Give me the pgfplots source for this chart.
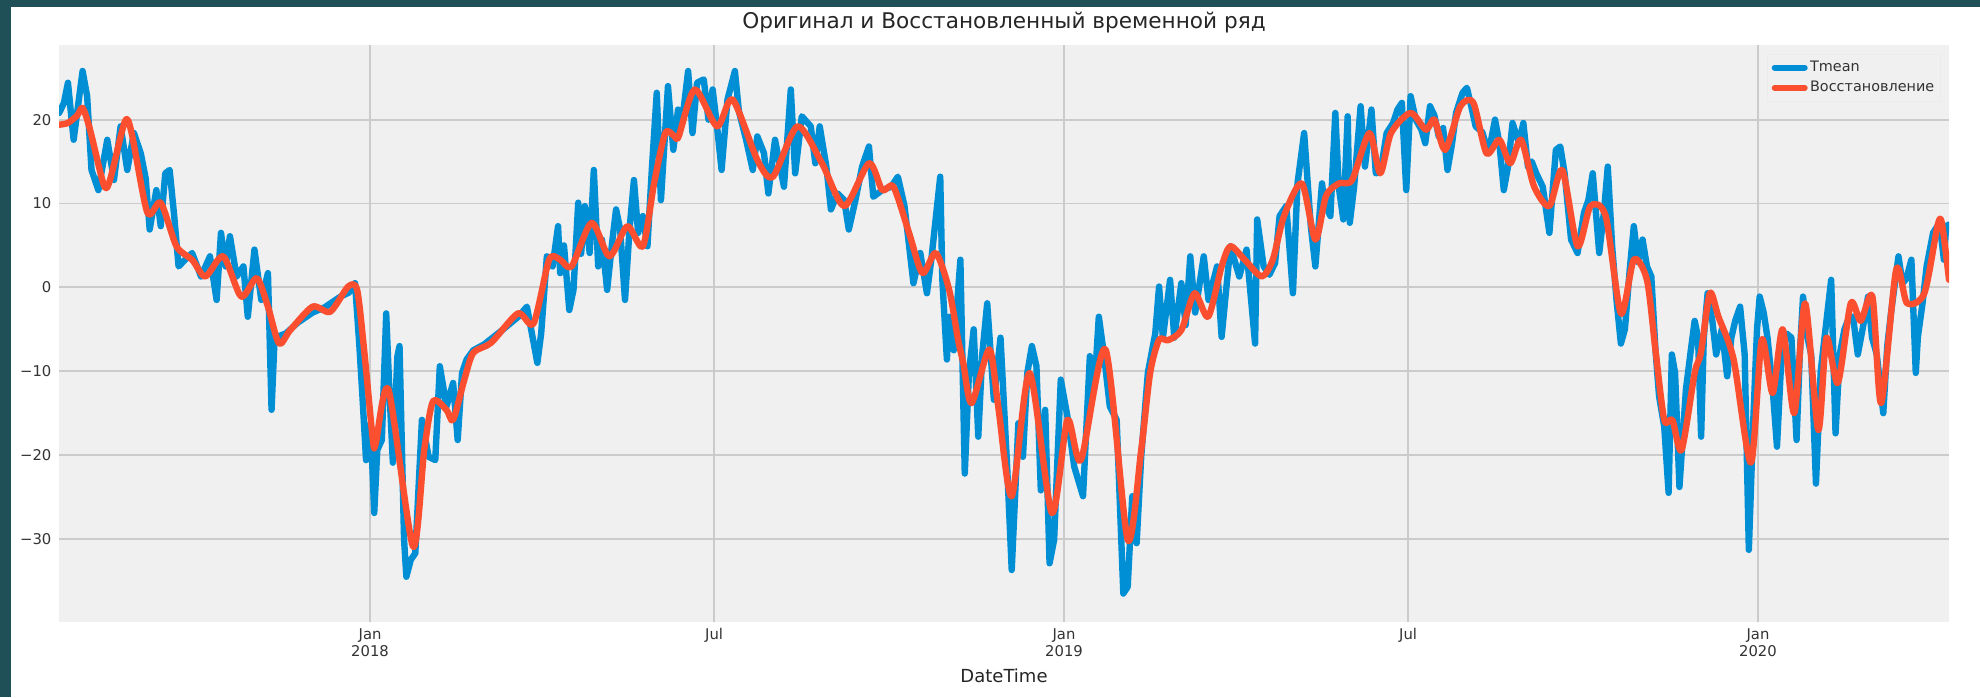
\documentclass[border=0pt]{standalone}
\usepackage{fontspec}
\setmainfont{DejaVu Sans}
\usepackage{pgfplots}
\pgfplotsset{compat=1.18}
\definecolor{bgax}{HTML}{F0F0F0}
\definecolor{gridc}{HTML}{CBCBCB}
\definecolor{tblue}{HTML}{008FD5}
\definecolor{tred}{HTML}{FC4F30}
\definecolor{teal}{HTML}{1F4F57}
\definecolor{txt}{HTML}{333333}
\begin{document}
\begin{tikzpicture}
\fill[white] (0,0) rectangle (990pt,348.5pt);
\fill[teal] (0,0) rectangle (5.5pt,348.5pt);
\fill[teal] (0,345pt) rectangle (990pt,348.5pt);
\begin{axis}[
  at={(29.5pt,37.5pt)}, anchor=south west,
  scale only axis, width=945pt, height=288.5pt,
  xmin=-163.6, xmax=830.5, ymin=-39.9, ymax=28.9,
  axis background/.style={fill=bgax},
  axis line style={draw=none},
  major tick length=0pt,
  grid=major,
  major grid style={gridc, line width=0.9pt},
  xtick={0,181,365,546,730},
  xticklabels={Jan\\2018,Jul,Jan\\2019,Jul,Jan\\2020},
  xticklabel style={align=center, font=\fontsize{7.4}{8.7}\selectfont, text=txt, inner sep=0pt, yshift=-3pt},
  ytick={-30,-20,-10,0,10,20},
  yticklabels={−30,−20,−10,0,10,20},
  yticklabel style={font=\fontsize{7.4}{8.7}\selectfont, text=txt, inner sep=0pt, xshift=-3.6pt},
  title={Оригинал и Восстановленный временной ряд},
  title style={font=\fontsize{10.8}{12}\selectfont, text=black!85, at={(0.5,1)}, anchor=base, yshift=2.2pt},
  xlabel={DateTime},
  xlabel style={font=\fontsize{9}{11}\selectfont, text=black!85, at={(0.5,0)}, anchor=base, yshift=-30pt},
  legend style={at={(1,1)}, anchor=north east, xshift=-4pt, yshift=-4.5pt, fill=bgax, draw=black!8,
    font=\fontsize{7.2}{9}\selectfont, text=txt, inner xsep=2pt, inner ysep=2pt, row sep=1pt,
    nodes={inner sep=1.2pt, anchor=west}},
  legend cell align=left,
  legend image code/.code={\draw[#1,line width=3pt] (0pt,0pt) -- (15pt,0pt);},
  every axis plot/.append style={line width=3.2pt, line join=round, line cap=round},
]
\addplot[tblue] coordinates {
(-163.5,20.8)(-161,22)(-158.9,24.4)(-155.9,17.6)(-151.2,25.8)(-148.8,22.8)(-146.5,14)(-142.9,11.6)
(-138.2,17.6)(-134.7,12.8)(-131.2,19.2)(-127.7,14)(-124.2,18.4)(-120.6,16)(-118,13)(-115.9,6.9)
(-112.4,11.6)(-110.1,7.3)(-107.7,13.6)(-105.4,14)(-103,8.5)(-100.7,2.5)(-97.2,3.3)(-93.6,4.1)
(-88.9,1.3)(-84.2,3.7)(-80.7,-1.5)(-78.4,6.5)(-76,2.5)(-73.7,6.1)(-70.2,1.3)(-66.6,2.5)(-64.3,-3.5)
(-60.8,4.5)(-57.2,-1.5)(-53.7,1.7)(-51.8,-14.6)(-50.2,-6)(-44.3,-5.5)(-38,-4.2)(-30.2,-3.0)(-24,-2.4)
(-16.2,-1.2)(-11,-0.6)(-7.9,0.5)(-5.6,-7)(-4,-13)(-2.1,-20.6)(0.3,-16.2)(2.2,-26.9)(3.8,-19.4)
(6.2,-18.2)(8.5,-3.1)(10,-11.4)(12,-20.9)(14.4,-8.2)(15.5,-7.0)(17.9,-30.1)(19.1,-34.5)(21.4,-32.5)
(23.8,-31.7)(27.3,-15.8)(30.8,-20.2)(34.3,-20.6)(36.7,-9.4)(40.2,-14.2)(43.7,-11.4)(46.1,-18.2)
(48.4,-10.2)(50.8,-8.6)(54.3,-7.5)(60,-6.8)(70,-5)(78,-3.5)(82.5,-2.3)(88,-9.0)(90,-5.5)(93,3.7)
(96,2.5)(98.9,7.3)(100,1.7)(102,5)(104.8,-2.7)(107,-0.3)(109.5,10.1)(111,4)(113,9.7)(115.5,4.1)
(117.7,14)(120,2.5)(122,5.7)(124.7,-0.3)(127.5,5.7)(129.4,9.3)(131.5,7)(134.1,-1.5)(136.5,7)
(138.8,12.8)(141,6.5)(143.5,8.5)(145.9,4.9)(148.3,14.4)(150.8,23.2)(153,10.4)(156.7,24)(159.5,16.4)
(162,21.2)(164,19.5)(167.3,25.8)(169.6,18.4)(172,24.4)(175.5,24.8)(178,20)(180.2,23.6)(182.5,19.2)
(184.9,14)(188,22.4)(191.9,25.8)(194,21)(197.8,17.6)(201.3,14)(203.7,18)(207.2,16)(209.5,11.2)
(213,17.6)(217.7,12)(221.3,23.6)(223.6,13.6)(227.1,20.4)(231.8,19.2)(234.2,14.8)(236.5,19.2)
(240,14.4)(242.4,9.3)(245.9,11.2)(249.4,10.4)(251.8,6.9)(255.3,10.4)(258.8,14.4)(262.4,16.8)
(264.7,10.8)(269.4,11.6)(274.1,12)(277.6,13.2)(281.1,9.7)(285.8,0.5)(289.4,4.1)(292.9,-0.7)
(295.2,3.3)(299.9,13.2)(301,0.9)(303.4,-8.6)(304.6,-3.5)(307,-7.5)(310.5,3.3)(312.8,-22.2)
(315,-10.2)(317.5,-5)(319.9,-17.8)(322,-8)(324.6,-1.9)(328.1,-13.4)(331.6,-6)(335.1,-21.4)
(337.5,-33.7)(341,-16.2)(343.4,-20.2)(345.7,-10.2)(348.1,-7)(350.5,-9.4)(352.8,-24.2)(355.1,-14.6)
(357.4,-32.9)(359.8,-30.1)(363.3,-11)(366.8,-15.4)(370.4,-21.4)(375,-24.9)(378.6,-8.2)(381,-12)
(383.3,-3.5)(386,-8)(389.1,-14.2)(392.7,-15.8)(396.2,-36.5)(398.5,-35.7)(400.9,-24.9)(403.2,-30.5)
(405.6,-20.2)(409.1,-10.2)(413,-5.5)(415,0.1)(417,-6)(420.8,0.9)(423,-6)(426.7,0.5)(429,-4.5)
(431.4,3.7)(434,-3)(438.5,3.7)(441,-1.5)(445.5,2.5)(447.9,-5.9)(452.5,4.9)(457.2,1.3)(461,4.5)
(465.5,-6.7)(466.6,8.1)(470,2.5)(473,1.5)(476,2.9)(478.4,8.5)(481.9,9.7)(485.4,-0.7)(487.8,12.4)
(491.3,18.4)(494.8,7.3)(497.2,2.5)(500.7,12.4)(502,10)(505.1,8.5)(507.7,20.8)(509.5,12)(511.9,8.1)
(514.2,20.4)(515.3,7.7)(517.6,12)(521,21.6)(523.3,14.4)(526.7,21.2)(529,13.6)(531.5,13.8)
(534.7,18.4)(538.1,19.6)(540.4,21.2)(542.7,22)(545,11.6)(547.3,22.8)(550,20)(553,18.8)(555,17.2)
(557.5,21.6)(559.8,20.5)(562.1,18)(564.4,19)(566.7,14)(569,17)(571.2,20.8)(574.6,23.2)(576.9,23.8)
(579.2,21.6)(581.5,19.2)(585,18.5)(588.3,16)(591.7,20)(594,17.2)(596.3,11.6)(598.6,14.5)(600.9,19.6)
(604.3,17.2)(606.6,19.6)(609,14.4)(611,15)(613.4,13.6)(616.8,12)(620.3,6.5)(623.7,16.4)(626,16.8)
(628.3,13.6)(631.7,5.7)(635.1,4.1)(638.5,8.9)(640.8,10.4)(643.1,13.6)(646.5,4.1)(649,9)(651,14.4)
(653.3,4.9)(655.6,-1.5)(657.9,-6.7)(660,-5)(662.5,2)(664.7,7.3)(667,3)(669.3,5.7)(671.6,2.5)
(673.9,1.3)(676.1,-7.5)(678,-13)(680.7,-16.6)(683,-24.5)(684.7,-8)(686.4,-10.2)(688.7,-23.8)
(692.1,-12.2)(694.4,-8)(696.7,-4)(698.5,-6)(700.1,-17.8)(701.5,-6)(703.5,-0.7)(706,-4)(708,-8)
(711,-5)(713.8,-10.6)(716,-6)(718,-4)(720.6,-2.3)(723,-8)(725.2,-31.3)(727.5,-16)(729.5,-5)
(730.9,-1.1)(733,-3)(735,-6)(737.7,-12)(740,-19)(742.4,-8)(745,-5.5)(747.6,-6)(750.3,-18.2)
(752,-8)(753.7,-1.1)(756,-6)(758,-8)(760.5,-23.4)(763,-10)(765,-6)(768.5,0.9)(770.8,-17.4)(773,-8)
(775.5,-5)(778,-3.5)(780,-3.5)(782.5,-8)(785,-5)(787.9,-1.1)(790,-6)(792.5,-8)(795.9,-15)(798,-7)
(800,-3)(803.9,3.7)(806,0.5)(808,1)(810.7,3.3)(813,-10.2)(814.1,-5.9)(816.5,-2)(818.7,2.5)
(822.1,6.5)(825.5,7.7)(827.8,3.3)(829,7.3)(830.5,7.5)
};
\addlegendentry{Tmean}
\addplot[tred, smooth, tension=0.45] coordinates {
(-163.5,19.4)(-159,19.6)(-154,20.5)(-151.2,21.4)(-147.5,19)(-140,12.2)(-136.8,12.8)(-128.9,19.8)
(-125.4,18.4)(-117.1,8.9)(-110.1,10.1)(-101.8,4.9)(-93.6,3.3)(-86.6,1.3)(-77.2,3.7)(-67.8,-1.1)
(-59.6,1.1)(-53.7,-2.3)(-47.9,-6.7)(-42,-5.1)(-30.2,-2.3)(-20.9,-2.9)(-11.5,0.1)(-6.8,-0.3)
(-3.1,-7.5)(1.5,-18.2)(3,-18.6)(9.7,-12.2)(22.6,-30.9)(28.5,-19.4)(33.1,-13.6)(40.2,-14.6)
(43.7,-15.8)(49.6,-11)(54.3,-7.8)(63.7,-6.6)(77.8,-3.1)(86,-4.3)(94.2,3.3)(100,3.3)(106,2.5)
(116.5,7.7)(125.9,3.7)(135.3,7.3)(143.5,4.9)(149.4,12.4)(155.3,18.4)(160.2,18)(162.3,18)
(170.8,23.6)(182.5,19.2)(190.7,22.4)(203.7,15.2)(211.9,13.2)(224.8,19.2)(237.7,14.8)(249.4,9.7)
(262.4,14.8)(269.4,11.6)(275.3,12)(283.5,6.5)(290.5,1.7)(297.6,4.1)(304.6,-0.3)(309.3,-6.25)
(312,-9)(316.4,-13.8)(325.7,-7.4)(330.4,-14.2)(337.5,-24.9)(346.9,-10.2)(358.6,-26.9)(366.8,-15.8)
(373.9,-20.6)(386.8,-7.4)(398.5,-30.1)(405.6,-19.4)(410.3,-10.2)(415,-6.25)(419.7,-6.3)(426.7,-5.1)
(433.7,-0.7)(440.8,-3.5)(447.9,2.5)(452.5,4.9)(460,3.3)(469,1.3)(474.8,3.3)(480.7,8.5)(490.1,12.4)
(497.2,5.7)(502.8,10.9)(509.6,12.4)(516.5,12.8)(525.6,18.4)(531.3,13.6)(537,18.4)(547.3,20.8)
(555.3,18.8)(559.8,20)(565.5,16.4)(573.5,21.6)(580.3,22)(587.2,16)(594,17.6)(599.7,14.8)
(605.4,17.6)(612.3,12)(620.3,9.7)(627.1,14)(635.1,4.9)(641.9,9.7)(649.9,8.5)(657.9,-3.1)
(664.7,3.3)(671.6,0.9)(676.1,-7.5)(680.7,-15.8)(685,-15.8)(689.8,-19.4)(696.7,-10.2)(700,-7.8)
(704.7,-0.7)(709.2,-3.5)(717.2,-8.6)(726.3,-20.9)(732,-6.25)(737.7,-12.6)(743,-5)(749.1,-15)
(754.8,-1.9)(761.7,-17)(766,-6)(772,-11.4)(778.8,-1.9)(784,-4)(790.2,-1.1)(794.8,-13.8)(802.7,2.1)
(808.4,-1.9)(817.5,-0.7)(824.4,7.3)(826.7,7.7)(830.5,0.9)
};
\addlegendentry{Восстановление}
\end{axis}
\pgfresetboundingbox
\path[use as bounding box] (0,0) rectangle (990pt,348.5pt);
\end{tikzpicture}
\end{document}
